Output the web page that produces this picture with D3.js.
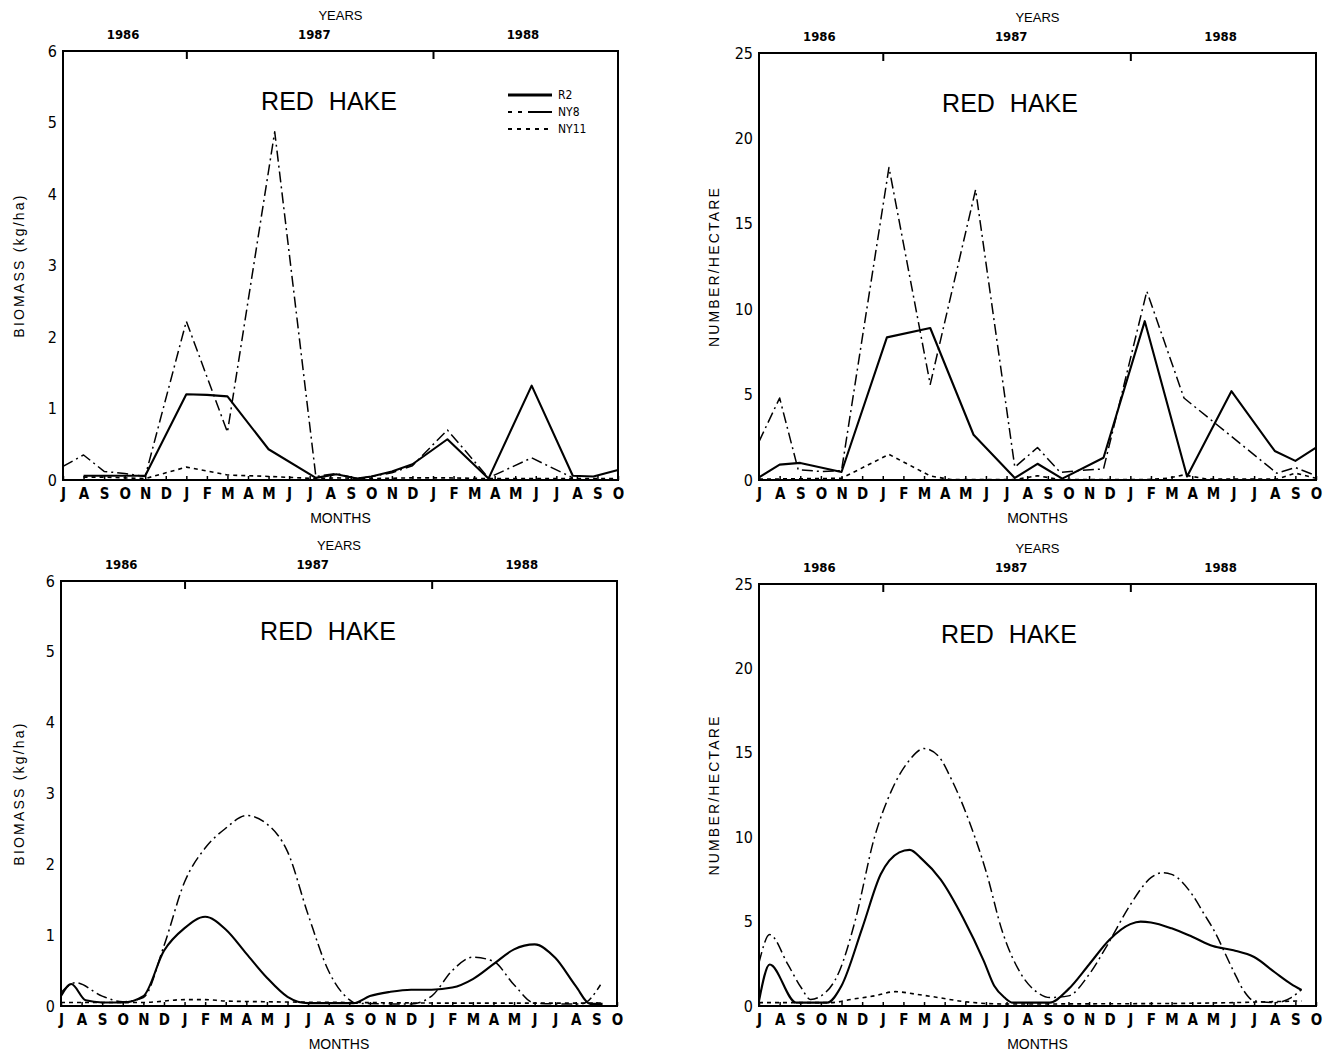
<!DOCTYPE html>
<html><head><meta charset="utf-8">
<script src="https://cdn.jsdelivr.net/npm/d3@7"></script>
<style>
body{margin:0;background:#fff;}
svg{display:block;background:#fff;}
</style></head><body>
<svg id="chart" width="1331" height="1052"></svg>
<script>
// ---------- labels ----------
const monthLabels = ["J","A","S","O","N","D","J","F","M","A","M","J","J","A","S","O","N","D","J","F","M","A","M","J","J","A","S","O"];
const yearLabels = ["1986","1987","1988"];
const yearLabelPos = [2.9, 12.2, 22.35];
const yearTickPos = [6, 18];
const biomassTicks = [0,1,2,3,4,5,6];
const densityTicks = [0,5,10,15,20,25];
const seriesNames = ["R2","NY8","NY11"];
const panelTitle = "RED HAKE";

// ---------- top-left: biomass (kg/ha), raw ----------
const tlR2Month  = [1, 2, 3, 4, 6, 7, 8, 10, 12.3, 13.3, 14.3, 15, 16, 17, 18.7, 20.7, 22.8, 24.8, 25.8, 27];
const tlR2Value  = [0.06, 0.06, 0.06, 0.06, 1.2, 1.19, 1.17, 0.43, 0.03, 0.08, 0.02, 0.05, 0.12, 0.22, 0.57, 0.02, 1.32, 0.06, 0.05, 0.14];
const tlNY8Month = [0, 1, 2, 3, 4, 6, 8, 10.3, 12.3, 13.3, 14.3, 15, 16, 17, 18.7, 20.7, 22.8, 24.8];
const tlNY8Value = [0.19, 0.35, 0.12, 0.09, 0.05, 2.22, 0.67, 4.87, 0.05, 0.09, 0.02, 0.05, 0.1, 0.2, 0.7, 0.03, 0.31, 0.03];
const tlNY11Month = [1, 2, 3, 4, 6, 8, 10, 12.3, 13.3, 15, 17, 18.7, 20.7, 22.8, 24.8, 25.8, 27];
const tlNY11Value = [0.04, 0.04, 0.03, 0.02, 0.18, 0.07, 0.05, 0.02, 0.03, 0.02, 0.03, 0.03, 0.02, 0.02, 0.02, 0.02, 0.02];

// ---------- top-right: number/hectare, raw ----------
const trR2Month  = [0, 1, 2, 4, 6.2, 8.3, 10.4, 12.4, 13.5, 14.7, 16.7, 18.7, 20.75, 22.9, 25, 26, 27];
const trR2Value  = [0.15, 0.9, 1.0, 0.47, 8.35, 8.9, 2.65, 0.12, 0.95, 0.08, 1.3, 9.3, 0.2, 5.2, 1.7, 1.12, 1.9];
const trNY8Month = [0, 1, 1.9, 3, 4, 6.3, 8.3, 10.5, 12.4, 13.5, 14.6, 15.5, 16.7, 18.8, 20.6, 25.1, 26, 27];
const trNY8Value = [2.25, 4.8, 0.6, 0.5, 0.55, 18.3, 5.6, 17.0, 0.75, 1.9, 0.45, 0.55, 0.65, 11.05, 4.8, 0.4, 0.73, 0.25];
const trNY11Month = [0, 4, 6.3, 8.3, 9.3, 12.4, 13.5, 14.6, 18.8, 19.8, 20.6, 21.7, 25.1, 26, 27];
const trNY11Value = [0.05, 0.1, 1.5, 0.24, 0.02, 0.02, 0.25, 0.02, 0.02, 0.1, 0.3, 0.05, 0.05, 0.4, 0.1];

// ---------- bottom-left: biomass (kg/ha), smoothed ----------
const blR2Month  = [0, 0.5, 1.2, 2, 3, 4, 5, 6, 7, 8, 9, 10, 11, 12, 13, 14.2, 15, 16, 17, 18, 19, 20, 21, 22, 23, 24, 25, 25.7, 26.3];
const blR2Value  = [0.14, 0.31, 0.08, 0.05, 0.05, 0.14, 0.78, 1.1, 1.26, 1.08, 0.74, 0.4, 0.13, 0.04, 0.04, 0.04, 0.14, 0.2, 0.23, 0.23, 0.26, 0.38, 0.59, 0.8, 0.87, 0.68, 0.28, 0.03, 0.03];
const blNY8Month = [0, 0.7, 2, 3, 4, 5, 6, 7, 8, 9, 10, 11, 12, 13, 14, 14.3, 16, 17, 18, 19, 20, 21, 22, 23, 24, 25.3, 26.2];
const blNY8Value = [0.19, 0.33, 0.14, 0.06, 0.12, 0.85, 1.75, 2.23, 2.51, 2.69, 2.57, 2.18, 1.29, 0.49, 0.09, 0.04, 0.03, 0.03, 0.14, 0.5, 0.69, 0.63, 0.3, 0.04, 0.03, 0.03, 0.3];
const blNY11Month = [0, 4, 6, 7, 8, 10, 14, 20, 26.3];
const blNY11Value = [0.05, 0.05, 0.09, 0.09, 0.07, 0.06, 0.05, 0.04, 0.04];

// ---------- bottom-right: number/hectare, smoothed ----------
const brR2Month  = [0, 0.52, 1.8, 3.3, 4, 5, 5.9, 6.8, 7.3, 7.9, 8.8, 9.9, 10.9, 11.4, 11.9, 12.3, 14.1, 15, 16, 17, 18, 18.5, 19, 20, 21, 22, 23, 24, 25, 25.8, 26.3];
const brR2Value  = [0.3, 2.46, 0.2, 0.2, 1.2, 4.6, 7.8, 9.1, 9.25, 8.7, 7.5, 5.2, 2.66, 1.2, 0.5, 0.2, 0.2, 1.0, 2.46, 3.94, 4.85, 5.0, 4.95, 4.6, 4.1, 3.55, 3.3, 2.9, 2.0, 1.3, 0.95];
const brNY8Month = [0, 0.52, 1.4, 2.05, 2.5, 3, 3.9, 4.65, 5.6, 6.4, 7.25, 8, 8.7, 9.3, 10.2, 11, 11.8, 12.7, 13.5, 14.1, 15, 16, 16.9, 18, 19, 19.55, 20, 21, 21.6, 22, 23, 23.5, 24, 25, 25.8, 26.3];
const brNY8Value = [2.56, 4.23, 2.46, 1.08, 0.39, 0.59, 2.07, 5.0, 10.0, 12.7, 14.5, 15.25, 14.8, 13.5, 10.9, 8.0, 4.4, 1.9, 0.8, 0.5, 0.6, 1.87, 3.64, 6.0, 7.6, 7.9, 7.8, 6.6, 5.4, 4.6, 2.07, 0.9, 0.3, 0.2, 0.5, 0.98];
const brNY11Month = [0, 3.5, 4.5, 5.6, 6.6, 7.6, 8.7, 9.7, 11, 12, 20, 26.3];
const brNY11Value = [0.2, 0.2, 0.4, 0.6, 0.85, 0.7, 0.5, 0.3, 0.15, 0.12, 0.15, 0.3];

// ---------- panel layout ----------
const panels = [
  {left:63, right:618, top:51, bottom:480, yMax:6, ticks:biomassTicks, yTitle:"BIOMASS (kg/ha)", yTitleX:19, titleX:329,
   smooth:false, legend:true,
   series:[[tlR2Month,tlR2Value],[tlNY8Month,tlNY8Value],[tlNY11Month,tlNY11Value]]},
  {left:759, right:1316, top:53, bottom:480, yMax:25, ticks:densityTicks, yTitle:"NUMBER/HECTARE", yTitleX:714, titleX:1010,
   smooth:false, legend:false,
   series:[[trR2Month,trR2Value],[trNY8Month,trNY8Value],[trNY11Month,trNY11Value]]},
  {left:61, right:617, top:581, bottom:1006, yMax:6, ticks:biomassTicks, yTitle:"BIOMASS (kg/ha)", yTitleX:19, titleX:328,
   smooth:true, legend:false,
   series:[[blR2Month,blR2Value],[blNY8Month,blNY8Value],[blNY11Month,blNY11Value]]},
  {left:759, right:1316, top:584, bottom:1006, yMax:25, ticks:densityTicks, yTitle:"NUMBER/HECTARE", yTitleX:714, titleX:1009,
   smooth:true, legend:false,
   series:[[brR2Month,brR2Value],[brNY8Month,brNY8Value],[brNY11Month,brNY11Value]]}
];

const styles = [
  {w:2.1, dash:null},
  {w:1.5, dash:"11,4,2,4"},
  {w:1.6, dash:"4,4"}
];

const FONT = "'Liberation Sans Narrow','DejaVu Sans Condensed','Liberation Sans',Arial,sans-serif";
const FONT_R = "'Liberation Sans','DejaVu Sans',Arial,sans-serif";

const svg = d3.select("#chart");

panels.forEach(p => {
  const x = d3.scaleLinear().domain([0, 27]).range([p.left, p.right]);
  const y = d3.scaleLinear().domain([0, p.yMax]).range([p.bottom, p.top]);
  const g = svg.append("g");

  // data lines
  const line = d3.line()
    .x(d => x(d[0])).y(d => y(d[1]))
    .curve(p.smooth ? d3.curveMonotoneX : d3.curveLinear);
  p.series.forEach((s, i) => {
    const pts = s[0].map((m, k) => [m, s[1][k]]);
    g.append("path").datum(pts)
      .attr("d", line)
      .attr("fill", "none")
      .attr("stroke", "#000")
      .attr("stroke-width", styles[i].w)
      .attr("stroke-dasharray", styles[i].dash)
      .attr("stroke-linejoin", "round");
  });

  // frame
  g.append("rect")
    .attr("x", p.left).attr("y", p.top)
    .attr("width", p.right - p.left).attr("height", p.bottom - p.top)
    .attr("fill", "none").attr("stroke", "#000").attr("stroke-width", 2);

  // bottom month axis
  const ax = g.append("g").attr("transform", `translate(0,${p.bottom})`)
    .call(d3.axisBottom(x).tickValues(d3.range(28)).tickFormat(i => monthLabels[i])
      .tickSizeInner(-4).tickSizeOuter(0).tickPadding(8));
  ax.select(".domain").remove();
  ax.selectAll("line").attr("stroke", "#000").attr("stroke-width", 1.5);
  ax.selectAll("text").attr("font-family", FONT).attr("font-size", 15).attr("font-weight", "bold").attr("fill", "#000");

  // left value axis
  const ay = g.append("g").attr("transform", `translate(${p.left},0)`)
    .call(d3.axisLeft(y).tickValues(p.ticks).tickFormat(d3.format("d")).tickSize(0).tickPadding(6));
  ay.select(".domain").remove();
  ay.selectAll("text").attr("font-family", FONT).attr("font-size", 16).attr("fill", "#000");

  // top: year ticks and labels
  const at = g.append("g").attr("transform", `translate(0,${p.top})`)
    .call(d3.axisTop(x).tickValues(yearTickPos).tickFormat("").tickSizeInner(-8).tickSizeOuter(0));
  at.select(".domain").remove();
  at.selectAll("line").attr("stroke", "#000").attr("stroke-width", 2);
  const al = g.append("g").attr("transform", `translate(0,${p.top})`)
    .call(d3.axisTop(x).tickValues(yearLabelPos).tickFormat((d, i) => yearLabels[i]).tickSize(0).tickPadding(12));
  al.select(".domain").remove();
  al.selectAll("text").attr("font-family", FONT).attr("font-size", 13).attr("font-weight", "bold").attr("fill", "#000");

  const cx = (p.left + p.right) / 2;
  g.append("text").text("YEARS").attr("x", cx).attr("y", p.top - 31)
    .attr("text-anchor", "middle").attr("font-family", FONT_R).attr("font-size", 13).attr("fill", "#000");
  g.append("text").text("MONTHS").attr("x", cx).attr("y", p.bottom + 43)
    .attr("text-anchor", "middle").attr("font-family", FONT_R).attr("font-size", 14).attr("fill", "#000");

  // y title
  g.append("text").text(p.yTitle)
    .attr("transform", `translate(${p.yTitleX},${(p.top + p.bottom) / 2}) rotate(-90)`)
    .attr("text-anchor", "middle").attr("dy", "0.35em")
    .attr("font-family", FONT_R).attr("font-size", 14).attr("letter-spacing", 2.2).attr("fill", "#000");

  // panel title
  g.append("text").text(panelTitle)
    .attr("x", p.titleX).attr("y", p.top + 59)
    .attr("text-anchor", "middle").attr("font-family", FONT_R).attr("font-size", 25)
    .attr("word-spacing", 8).attr("fill", "#000");

  // legend
  if (p.legend) {
    const lg = g.append("g");
    seriesNames.forEach((n, i) => {
      const ly = 95 + i * 17;
      lg.append("line").attr("x1", 508).attr("x2", 552).attr("y1", ly).attr("y2", ly)
        .attr("stroke", "#000").attr("stroke-width", i === 0 ? 3 : 2.2)
        .attr("stroke-dasharray", i === 0 ? null : (i === 1 ? "4,6,4,6,26" : "4,5"));
      lg.append("text").text(n).attr("x", 558).attr("y", ly).attr("dy", "0.35em")
        .attr("font-family", FONT).attr("font-size", 12).attr("fill", "#000");
    });
  }
});
</script>
</body></html>
